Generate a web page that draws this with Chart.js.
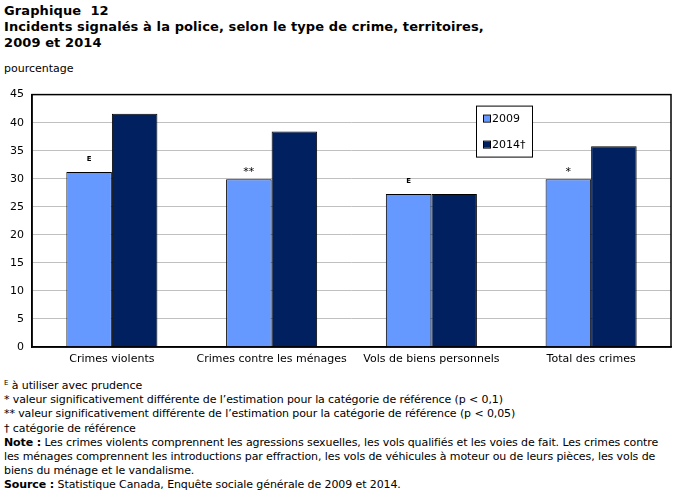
<!DOCTYPE html>
<html>
<head>
<meta charset="utf-8">
<script src="https://cdn.jsdelivr.net/npm/chart.js@4.4.1/dist/chart.umd.min.js"></script>
<style>
  body { margin:0; width:676px; height:493px; background:#fff; position:relative; overflow:hidden; font-family:"DejaVu Sans", Verdana, sans-serif; color:#000; }
  #title { position:absolute; left:4px; top:3px; font-weight:bold; font-size:13px; letter-spacing:0.1px; line-height:16px; }
  #unit { position:absolute; left:4px; top:62px; font-size:11px; }
  #wrap { position:absolute; left:0; top:80px; width:676px; height:298px; }
  #notes { position:absolute; left:4px; top:379px; font-family:"DejaVu Sans",sans-serif; font-size:11px; line-height:14.2px; white-space:nowrap; letter-spacing:-0.1px; }
  #notes sup { font-size:7px; vertical-align:4px; line-height:0; }
</style>
</head>
<body>
<div id="title">Graphique&nbsp; 12<br>Incidents signalés à la police, selon le type de crime, territoires,<br>2009 et 2014</div>
<div id="unit">pourcentage</div>
<div id="wrap"><canvas id="chart" width="676" height="298"></canvas></div>
<div id="notes">
<sup>E</sup> à utiliser avec prudence<br>
* valeur significativement différente de l’estimation pour la catégorie de référence (p &lt; 0,1)<br>
** valeur significativement différente de l’estimation pour la catégorie de référence (p &lt; 0,05)<br>
† catégorie de référence<br>
<b>Note :</b> Les crimes violents comprennent les agressions sexuelles, les vols qualifiés et les voies de fait. Les crimes contre<br>
les ménages comprennent les introductions par effraction, les vols de véhicules à moteur ou de leurs pièces, les vols de<br>
biens du ménage et le vandalisme.<br>
<b>Source :</b> Statistique Canada, Enquête sociale générale de 2009 et 2014.
</div>
<script>
const categories = ["Crimes violents", "Crimes contre les ménages", "Vols de biens personnels", "Total des crimes"];
const values2009 = [31.2, 29.9, 27.3, 29.9];
const values2014 = [41.6, 38.4, 27.3, 35.8];
const flags2009 = ["E", "**", "E", "*"];
const seriesLabels = ["2009", "2014†"];
const colors = ["#6699ff", "#002060"];

// frame around the plot area
const framePlugin = {
  id: 'frame',
  afterDraw(chart){
    const {ctx, chartArea:a} = chart;
    ctx.save();
    ctx.strokeStyle = '#000';
    ctx.lineWidth = 1.5;
    ctx.strokeRect(a.left, a.top, a.right - a.left, a.bottom - a.top);
    ctx.restore();
  }
};

// E / * / ** marks above the 2009 bars
const flagPlugin = {
  id: 'flags',
  afterDatasetsDraw(chart){
    const {ctx} = chart;
    const meta = chart.getDatasetMeta(0);
    ctx.save();
    ctx.fillStyle = '#000';
    ctx.textAlign = 'center';
    ctx.textBaseline = 'alphabetic';
    meta.data.forEach((bar, i)=>{
      const f = flags2009[i];
      if(!f) return;
      if(f === 'E'){
        ctx.font = 'bold 7px "DejaVu Sans"';
        ctx.fillText(f, bar.x, bar.y - 11);
      } else {
        ctx.font = '11px "DejaVu Sans"';
        ctx.fillText(f, bar.x, bar.y - 4);
      }
    });
    ctx.restore();
  }
};

// boxed legend inside the plot
const legendPlugin = {
  id: 'boxLegend',
  afterDraw(chart){
    const {ctx, chartArea:a} = chart;
    const x = a.left + 444, y = a.top + 11, w = 56, h = 51;
    ctx.save();
    ctx.fillStyle = '#fff';
    ctx.fillRect(x, y, w, h);
    ctx.strokeStyle = '#000';
    ctx.lineWidth = 1;
    ctx.strokeRect(x + 0.5, y + 0.5, w, h);
    ctx.font = '11px "DejaVu Sans"';
    ctx.textBaseline = 'middle';
    chart.data.datasets.forEach((ds, i)=>{
      const ry = y + 13 + i * 26;
      ctx.fillStyle = ds.backgroundColor;
      ctx.fillRect(x + 8, ry - 3, 6, 6);
      ctx.strokeStyle = '#000';
      ctx.strokeRect(x + 7.5, ry - 3.5, 7, 7);
      ctx.fillStyle = '#000';
      ctx.fillText(ds.label, x + 16, ry + 1);
    });
    ctx.restore();
  }
};

new Chart(document.getElementById('chart'), {
  type: 'bar',
  data: {
    labels: categories,
    datasets: [
      { label: seriesLabels[0], data: values2009, backgroundColor: colors[0], borderColor: '#000', borderWidth: 1 },
      { label: seriesLabels[1], data: values2014, backgroundColor: colors[1], borderColor: '#000', borderWidth: 1 }
    ]
  },
  options: {
    responsive: false,
    animation: false,
    layout: { padding: { left: 0, right: 5, top: 13, bottom: 0 } },
    plugins: { legend: { display: false }, tooltip: { enabled: false } },
    datasets: { bar: { categoryPercentage: 0.57, barPercentage: 1 } },
    scales: {
      x: {
        grid: { display: false, drawTicks: false },
        border: { color: '#000', width: 1.5 },
        ticks: { color: '#000', font: { family: 'DejaVu Sans', size: 11 }, padding: 6, maxRotation: 0 },
        afterFit(s){ s.height = 31; }
      },
      y: {
        min: 0, max: 45,
        ticks: { stepSize: 5, color: '#000', font: { family: 'DejaVu Sans', size: 11 }, padding: 8 },
        grid: { color: '#c0c0c0', lineWidth: 1, drawTicks: false },
        border: { color: '#000', width: 1.5, dash: [] },
        afterFit(s){ s.width = 32; }
      }
    }
  },
  plugins: [framePlugin, flagPlugin, legendPlugin]
});
</script>
</body>
</html>
